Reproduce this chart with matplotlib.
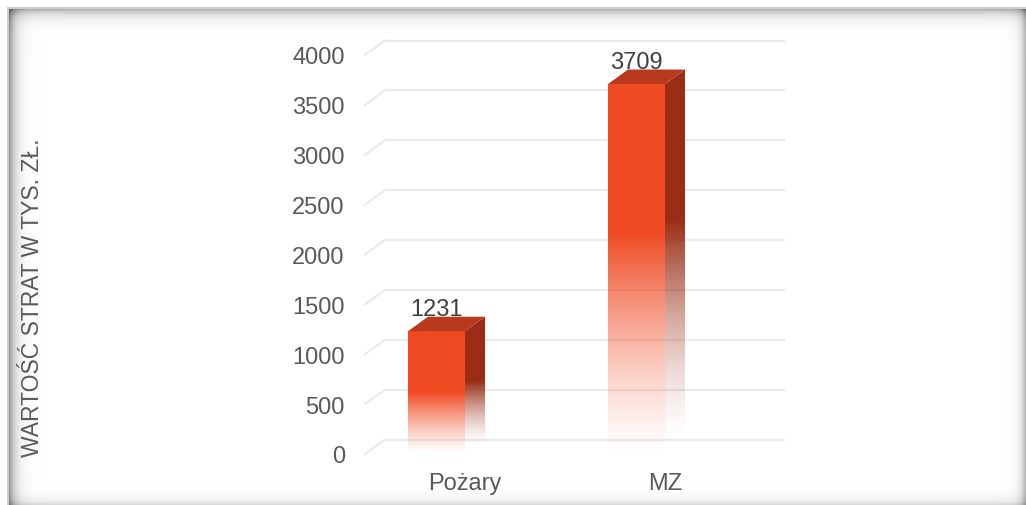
import numpy as np
import matplotlib
matplotlib.use("Agg")
import matplotlib.pyplot as plt
from matplotlib.patches import Polygon

plt.rcParams['font.family'] = ['Liberation Sans', 'DejaVu Sans']

# ---- data ----
categories = ["Pożary", "MZ"]
values = [1231, 3709]
yticks = [0, 500, 1000, 1500, 2000, 2500, 3000, 3500, 4000]
ylabel = "WARTOŚĆ STRAT W TYS. ZŁ."

# ---- styles ----
W, H = 1026, 506
front_col = np.array([0xF0, 0x4A, 0x22]) / 255
top_col = "#B8391B"
side_col = np.array([0x9A, 0x2D, 0x15]) / 255
text_col = "#595959"
grid_col = "#EBEBEB"

fig = plt.figure(figsize=(W / 100, H / 100), dpi=100)
fig.patch.set_facecolor("white")

# ---- frame with inner shadow (decoration), placed pixel for pixel ----
yy, xx = np.mgrid[0:H, 0:W].astype(float)
L, T, R, B = 8.5, 9.5, 1026.5, 506.5
dl = np.clip(xx - L, 0, None)
dt = np.clip(yy - T, 0, None)
dr = np.clip(R - xx, 0, None)
db = np.clip(B - yy, 0, None)
shade = (0.45 * np.exp(-dl / 6.0) + 0.33 * np.exp(-dt / 6.0)
         + 0.42 * np.exp(-dr / 4.5) + 0.20 * np.exp(-db / 5.0))
shade = np.clip(shade, 0, 0.6)
img = np.ones((H, W, 3)) * (1 - shade)[..., None]
outside = (xx < L - 1.5) | (yy < T - 1.5)
img[outside] = 1.0
edge = ((np.abs(xx - (L - 1)) < 1.0) & (yy >= T - 2)) | ((np.abs(yy - (T - 1)) < 1.0) & (xx >= L - 2))
img[edge] = 0.80
img8 = (np.clip(img, 0, 1) * 255).round().astype(np.uint8)
fig.figimage(img8, xo=0, yo=0, origin="upper", zorder=-10)

# ---- main axes: front plane ----
x0p, x1p, y0p, y1p = 365, 765, 455, 56
ax = fig.add_axes([x0p / W, (H - y0p) / H, (x1p - x0p) / W, (y0p - y1p) / H])
ax.set_zorder(5)
ax.set_xlim(-0.5, 1.5)
ax.set_ylim(0, 4000)
ax.patch.set_alpha(0)
for s in ax.spines.values():
    s.set_visible(False)

ppx = (x1p - x0p) / 2.0          # pixels per category unit
ppy = (y0p - y1p) / 4000.0       # pixels per value unit
ddx = 20 / ppx                   # depth offset in data units
ddy = 14.5 / ppy

# gridlines (back wall + floor diagonal)
for t in yticks:
    ax.plot([-0.5 + ddx, 1.5 + ddx], [t + ddy, t + ddy], color=grid_col, lw=1.6,
            clip_on=False, zorder=1, solid_capstyle="butt")
    ax.plot([-0.5, -0.5 + ddx], [t, t + ddy], color=grid_col, lw=1.6,
            clip_on=False, zorder=1)

ax.set_yticks(yticks)
ax.set_yticklabels([str(t) for t in yticks])
ax.set_xticks(range(len(categories)))
ax.set_xticklabels(categories)
ax.tick_params(axis="y", length=0, pad=14.5, labelsize=17, labelcolor=text_col)
ax.tick_params(axis="x", length=0, pad=13, labelsize=17, labelcolor=text_col)

bar_w = 0.285
bar_off = -0.285


def alpha_profile(n, solid_frac):
    # top (index 0) solid, fading to transparent at bottom
    f = np.linspace(0, 1, n)
    a = np.ones(n)
    m = f > solid_frac
    a[m] = 1 - ((f[m] - solid_frac) / (1 - solid_frac))
    return np.clip(a, 0, 1) ** 1.3


for i, v in enumerate(values):
    xl = i + bar_off
    xr = xl + bar_w
    n = 256
    solid = 0.40 if v > 2000 else 0.5
    a = alpha_profile(n, solid)
    # front face gradient
    grad = np.zeros((n, 2, 4))
    grad[..., :3] = front_col
    grad[..., 3] = a[:, None]
    ax.imshow(grad, extent=[xl, xr, 0, v], origin="upper", aspect="auto",
              interpolation="bilinear", zorder=3, clip_on=False)
    # side face gradient
    side = Polygon([[xr, 0], [xr, v], [xr + ddx, v + ddy], [xr + ddx, ddy]],
                   closed=True, facecolor="none", edgecolor="none",
                   transform=ax.transData)
    ax.add_patch(side)
    grad2 = np.zeros((n, 2, 4))
    grad2[..., :3] = side_col
    grad2[..., 3] = alpha_profile(n, solid)[:, None] ** 1.2
    im2 = ax.imshow(grad2, extent=[xr, xr + ddx, ddy * 0.5, v + ddy], origin="upper",
                    aspect="auto", interpolation="bilinear", zorder=2.9)
    im2.set_clip_path(side)
    # top face
    top = Polygon([[xl, v], [xr, v], [xr + ddx, v + ddy], [xl + ddx, v + ddy]],
                  closed=True, facecolor=top_col, edgecolor="none", zorder=3.1,
                  clip_on=False)
    ax.add_patch(top)
    ax.set_xlim(-0.5, 1.5)
    ax.set_ylim(0, 4000)
    # value label
    ax.annotate(str(v), xy=(xl + bar_w / 2, v), xytext=(0, 11.5),
                textcoords="offset points", ha="center", va="baseline",
                fontsize=17, color="#404040", zorder=5, annotation_clip=False)

fig.text(33 / W, 1 - 298 / H, ylabel, rotation=90, ha="center", va="center",
         fontsize=16.5, color=text_col, zorder=6)

fig.savefig("out.png", dpi=100, facecolor="white")
